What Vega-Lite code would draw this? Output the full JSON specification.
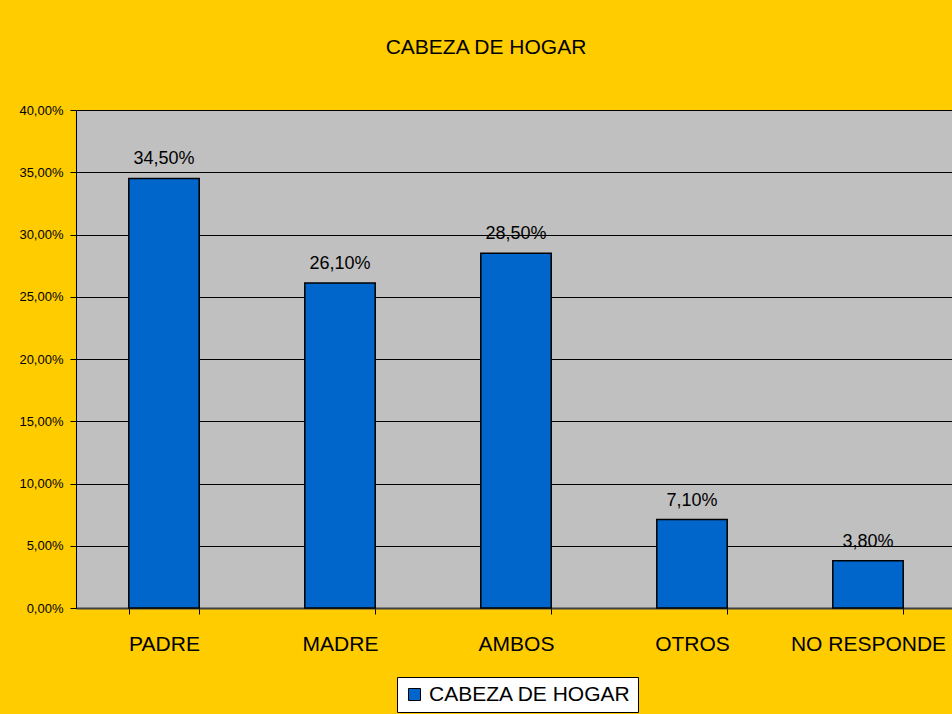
{
  "$schema": "https://vega.github.io/schema/vega-lite/v6.json",
  "width": 876,
  "height": 498,
  "autosize": {"type": "none"},
  "padding": {"left": 76, "top": 110, "right": 0, "bottom": 106},
  "background": "#FFCC00",
  "title": {
    "text": "CABEZA DE HOGAR",
    "font": "Liberation Sans",
    "fontSize": 21,
    "fontWeight": "normal",
    "color": "#000000",
    "anchor": "middle",
    "dx": -28,
    "offset": 46
  },
  "data": {
    "values": [
      {"categoria": "PADRE", "valor": 0.345},
      {"categoria": "MADRE", "valor": 0.261},
      {"categoria": "AMBOS", "valor": 0.285},
      {"categoria": "OTROS", "valor": 0.071},
      {"categoria": "NO RESPONDE", "valor": 0.038}
    ]
  },
  "config": {
    "view": {"fill": "#C0C0C0", "stroke": null},
    "font": "Liberation Sans"
  },
  "encoding": {
    "x": {
      "field": "categoria",
      "type": "nominal",
      "sort": null,
      "scale": {"range": [0, 880], "paddingInner": 0.6, "paddingOuter": 0.3},
      "axis": {
        "title": null,
        "labelAngle": 0,
        "labelFont": "Liberation Sans",
        "labelFontSize": 21,
        "labelColor": "#000000",
        "labelPadding": 19,
        "tickBand": "extent",
        "tickColor": "#000000",
        "tickSize": 6,
        "domainColor": "#404040",
        "domainWidth": 2,
        "grid": false
      }
    },
    "y": {
      "field": "valor",
      "type": "quantitative",
      "scale": {"domain": [0, 0.4], "nice": false},
      "axis": {
        "title": null,
        "values": [0, 0.05, 0.1, 0.15, 0.2, 0.25, 0.3, 0.35, 0.4],
        "labelExpr": "replace(format(datum.value, '.2%'), '.', ',')",
        "labelFont": "Liberation Sans",
        "labelFontSize": 13,
        "labelColor": "#000000",
        "labelPadding": 7,
        "tickColor": "#000000",
        "tickSize": 6,
        "domainColor": "#000000",
        "grid": true,
        "gridColor": "#000000",
        "gridWidth": 1,
        "gridOpacity": 1
      }
    }
  },
  "layer": [
    {
      "mark": {"type": "bar", "stroke": "#000000", "strokeWidth": 1.5},
      "encoding": {
        "color": {
          "datum": "CABEZA DE HOGAR",
          "type": "nominal",
          "scale": {"range": ["#0066CC"]},
          "legend": {
            "title": null,
            "orient": "none",
            "legendX": 321,
            "legendY": 567,
            "fillColor": "#FFFFFF",
            "strokeColor": "#000000",
            "padding": 7,
            "symbolType": "square",
            "symbolSize": 144,
            "symbolStrokeColor": "#000000",
            "symbolStrokeWidth": 1,
            "labelFont": "Liberation Sans",
            "labelFontSize": 21,
            "labelColor": "#000000",
            "labelOffset": 4,
            "labelLimit": 400,
            "cornerRadius": 0
          }
        }
      }
    },
    {
      "mark": {
        "type": "text",
        "baseline": "alphabetic",
        "dy": -14,
        "fontSize": 18,
        "font": "Liberation Sans",
        "color": "#000000",
        "text": {"expr": "replace(format(datum.valor, '.2%'), '.', ',')"}
      },
      "encoding": {}
    }
  ]
}
